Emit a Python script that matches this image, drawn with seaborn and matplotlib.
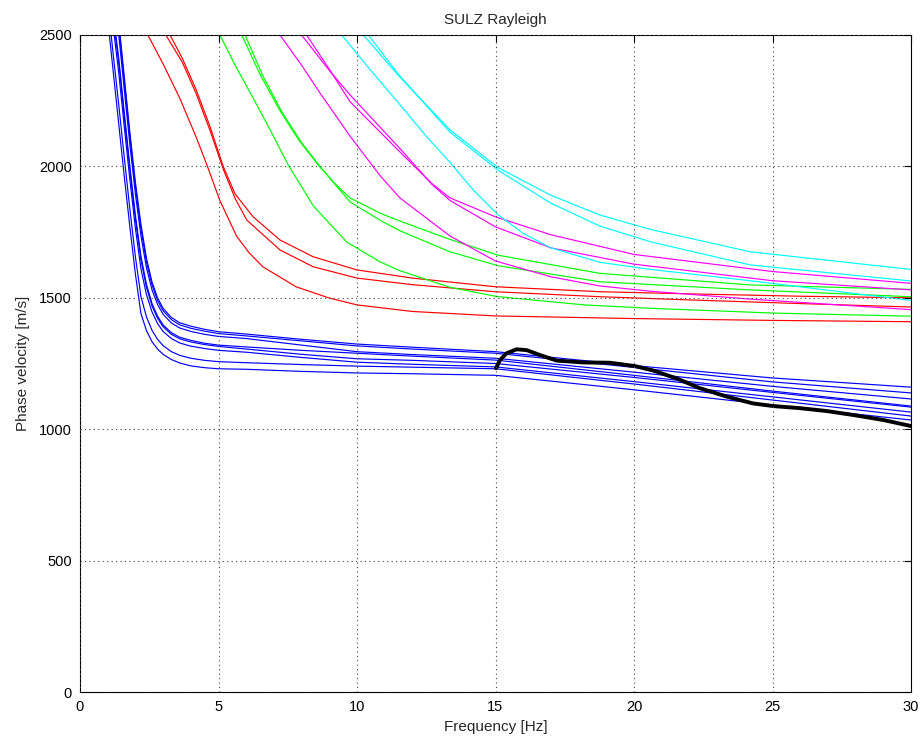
import matplotlib
matplotlib.use("Agg")
import matplotlib.pyplot as plt
import seaborn as sns
import pandas as pd

# ---------------- data ----------------
# fundamental mode (blue) - shared frequency grid
FB = [1.0, 1.2, 1.4, 1.6, 1.8, 2.0, 2.2, 2.4, 2.6, 2.8, 3.0, 3.3, 3.6, 4.0, 4.5,
      5.0, 6.0, 8.0, 10.0, 12.0, 15.0, 20.0, 25.0, 30.0]
B1 = [2900, 2700, 2550, 2340, 2130, 1940, 1780, 1650, 1560, 1500, 1460, 1425, 1405, 1392, 1380,
      1371, 1362, 1342, 1324, 1312, 1295, 1242, 1195, 1160]
B2 = [2883, 2683, 2531, 2321, 2112, 1923, 1763, 1636, 1549, 1490, 1451, 1417, 1397, 1384, 1373,
      1364, 1355, 1336, 1317, 1305, 1289, 1235, 1180, 1138]
B3 = [2856, 2656, 2499, 2291, 2083, 1895, 1736, 1614, 1530, 1475, 1437, 1404, 1385, 1372, 1361,
      1353, 1345, 1320, 1295, 1284, 1270, 1217, 1163, 1115]
B4 = [2778, 2578, 2410, 2203, 2000, 1814, 1658, 1551, 1478, 1430, 1397, 1367, 1350, 1338, 1327,
      1320, 1313, 1300, 1289, 1278, 1263, 1205, 1145, 1088]
B5 = [2764, 2564, 2394, 2188, 1986, 1800, 1644, 1540, 1469, 1422, 1390, 1361, 1344, 1332, 1322,
      1315, 1305, 1285, 1268, 1262, 1250, 1197, 1140, 1084]
B6 = [2730, 2530, 2355, 2150, 1950, 1765, 1610, 1512, 1446, 1402, 1372, 1345, 1328, 1316, 1307,
      1300, 1293, 1273, 1255, 1247, 1237, 1181, 1123, 1065]
B7 = [2625, 2425, 2234, 2032, 1838, 1656, 1505, 1427, 1376, 1342, 1318, 1295, 1281, 1270, 1262,
      1257, 1253, 1246, 1240, 1236, 1230, 1172, 1111, 1050]
B8 = [2560, 2360, 2160, 1960, 1770, 1590, 1440, 1375, 1333, 1305, 1285, 1265, 1252, 1241, 1234,
      1230, 1228, 1220, 1214, 1211, 1205, 1150, 1092, 1035]

# first higher mode (red)
RA_f = [2.2, 2.45, 3.0, 3.6, 4.2, 4.6, 5.05, 5.65, 6.1, 6.6, 7.8, 9.0, 10.0, 12.0, 15.0, 20.0, 25.0, 30.0]
RA_v = [2550, 2500, 2390, 2260, 2110, 2000, 1870, 1735, 1672, 1618, 1542, 1499, 1473, 1448, 1431, 1421, 1414, 1409]
RB_f = [2.9, 3.25, 3.7, 4.2, 4.7, 5.17, 5.6, 6.25, 7.22, 8.42, 10.0, 12.0, 15.0, 18.8, 22.0, 26.0, 30.0]
RB_v = [2560, 2500, 2410, 2290, 2150, 2000, 1895, 1808, 1720, 1656, 1606, 1575, 1542, 1523, 1515, 1506, 1500]
RC_f = [2.9, 3.1, 3.7, 4.2, 4.7, 5.17, 5.6, 6.02, 7.22, 8.42, 10.0, 12.0, 15.0, 18.8, 22.0, 26.0, 30.0]
RC_v = [2540, 2500, 2395, 2275, 2135, 1990, 1878, 1796, 1682, 1618, 1575, 1550, 1523, 1504, 1492, 1478, 1465]

# second higher mode (green)
GA_f = [4.8, 5.05, 5.6, 6.25, 6.86, 7.52, 8.42, 9.63, 10.83, 11.55, 13.36, 15.04, 18.2, 20.6, 25.0, 30.0]
GA_v = [2555, 2500, 2385, 2260, 2140, 2005, 1850, 1712, 1637, 1603, 1540, 1505, 1473, 1460, 1442, 1430]
GB_f = [5.6, 5.84, 6.5, 7.2, 7.9, 8.6, 9.2, 9.75, 10.83, 11.55, 13.36, 15.1, 18.77, 24.2, 30.0]
GB_v = [2555, 2500, 2350, 2215, 2100, 2005, 1935, 1880, 1822, 1792, 1722, 1662, 1593, 1549, 1532]
GC_f = [5.7, 5.96, 6.6, 7.3, 8.0, 8.7, 9.3, 9.75, 10.83, 11.55, 13.36, 15.1, 18.77, 24.2, 30.0]
GC_v = [2560, 2500, 2345, 2205, 2090, 1995, 1920, 1865, 1795, 1755, 1675, 1622, 1561, 1530, 1504]

# third higher mode (magenta)
MA_f = [7.0, 7.22, 8.0, 8.66, 9.75, 10.83, 11.55, 13.36, 15.0, 17.0, 18.77, 20.6, 24.2, 30.0]
MA_v = [2530, 2500, 2385, 2280, 2115, 1965, 1880, 1735, 1640, 1580, 1545, 1525, 1495, 1455]
MB_f = [7.8, 8.0, 9.0, 9.75, 11.55, 12.7, 13.36, 15.0, 17.0, 20.0, 25.0, 30.0]
MB_v = [2525, 2500, 2365, 2272, 2068, 1932, 1870, 1770, 1690, 1628, 1565, 1530]
MC_f = [8.0, 8.18, 9.0, 9.75, 11.55, 12.7, 13.36, 15.0, 17.0, 20.0, 25.0, 30.0]
MC_v = [2525, 2500, 2370, 2246, 2055, 1935, 1880, 1808, 1740, 1665, 1600, 1555]

# fourth higher mode (cyan)
CA_f = [9.2, 9.45, 10.5, 11.55, 12.5, 13.36, 14.2, 15.1, 16.0, 17.0, 18.77, 20.6, 24.2, 30.0]
CA_v = [2540, 2500, 2365, 2235, 2115, 2015, 1910, 1815, 1745, 1690, 1635, 1608, 1565, 1490]
CB_f = [10.0, 10.23, 11.5, 13.36, 15.1, 17.0, 18.77, 20.6, 24.2, 30.0]
CB_v = [2530, 2500, 2345, 2139, 1995, 1890, 1815, 1760, 1675, 1608]
CC_f = [10.2, 10.41, 11.5, 13.36, 15.1, 17.0, 18.77, 20.6, 24.2, 30.0]
CC_v = [2530, 2500, 2350, 2130, 1985, 1860, 1773, 1713, 1625, 1564]

# observed dispersion curve (black)
OBS_f = [15.02, 15.16, 15.4, 15.76, 16.12, 16.61, 17.21, 18.17, 19.13, 20.04, 20.7,
         21.54, 22.38, 23.35, 24.3, 25.03, 26.0, 26.96, 27.92, 29.0, 30.0]
OBS_v = [1232, 1263, 1289, 1304, 1301, 1282, 1261, 1254, 1253, 1240, 1223,
         1193, 1156, 1124, 1098, 1088, 1080, 1069, 1054, 1035, 1012]

MODE_COLORS = {"blue": "#0000ff", "red": "#ff0000", "green": "#00ff00",
               "magenta": "#ff00ff", "cyan": "#00ffff"}

# ---------------- build long table ----------------
curves = [
    ("B1", FB, B1, "blue"), ("B2", FB, B2, "blue"), ("B3", FB, B3, "blue"),
    ("B4", FB, B4, "blue"), ("B5", FB, B5, "blue"), ("B6", FB, B6, "blue"),
    ("B7", FB, B7, "blue"), ("B8", FB, B8, "blue"),
    ("RA", RA_f, RA_v, "red"), ("RB", RB_f, RB_v, "red"), ("RC", RC_f, RC_v, "red"),
    ("GA", GA_f, GA_v, "green"), ("GB", GB_f, GB_v, "green"), ("GC", GC_f, GC_v, "green"),
    ("MA", MA_f, MA_v, "magenta"), ("MB", MB_f, MB_v, "magenta"), ("MC", MC_f, MC_v, "magenta"),
    ("CA", CA_f, CA_v, "cyan"), ("CB", CB_f, CB_v, "cyan"), ("CC", CC_f, CC_v, "cyan"),
]
frames = []
palette = {}
for name, f, v, mode in curves:
    frames.append(pd.DataFrame({"freq": f, "vel": v, "curve": name}))
    palette[name] = MODE_COLORS[mode]
df = pd.concat(frames, ignore_index=True)
obs = pd.DataFrame({"freq": OBS_f, "vel": OBS_v})

# ---------------- style ----------------
sns.set_style("white")
plt.rcParams["font.family"] = ["Liberation Sans", "DejaVu Sans"]

fig = plt.figure(figsize=(9.24, 7.44), dpi=100)
ax = fig.add_axes([80 / 924, 52 / 744, 831 / 924, 657 / 744])

sns.lineplot(data=df, x="freq", y="vel", hue="curve", units="curve", estimator=None,
             sort=False, palette=palette, legend=False, linewidth=0.85, ax=ax)
sns.lineplot(data=obs, x="freq", y="vel", estimator=None, sort=False,
             color="black", linewidth=2.8, ax=ax)

ax.set_xlim(0, 30)
ax.set_ylim(0, 2500)
ax.set_xticks([0, 5, 10, 15, 20, 25, 30])
ax.set_yticks([0, 500, 1000, 1500, 2000, 2500])
ax.grid(True, color="#444444", linestyle=(0, (1, 3)), linewidth=0.8)
ax.set_axisbelow(False)
for s in ax.spines.values():
    s.set_color("black")
    s.set_linewidth(0.8)
    s.set_visible(True)
ax.tick_params(direction="in", length=5, width=0.8, top=True, right=True,
               labelsize=10.5, colors="black", pad=6)
ax.set_xlabel("Frequency [Hz]", fontsize=11, labelpad=4)
ax.set_ylabel("Phase velocity [m/s]", fontsize=11, labelpad=6)
ax.set_title("SULZ Rayleigh", fontsize=11, pad=8)

fig.savefig("out.png", dpi=100)
